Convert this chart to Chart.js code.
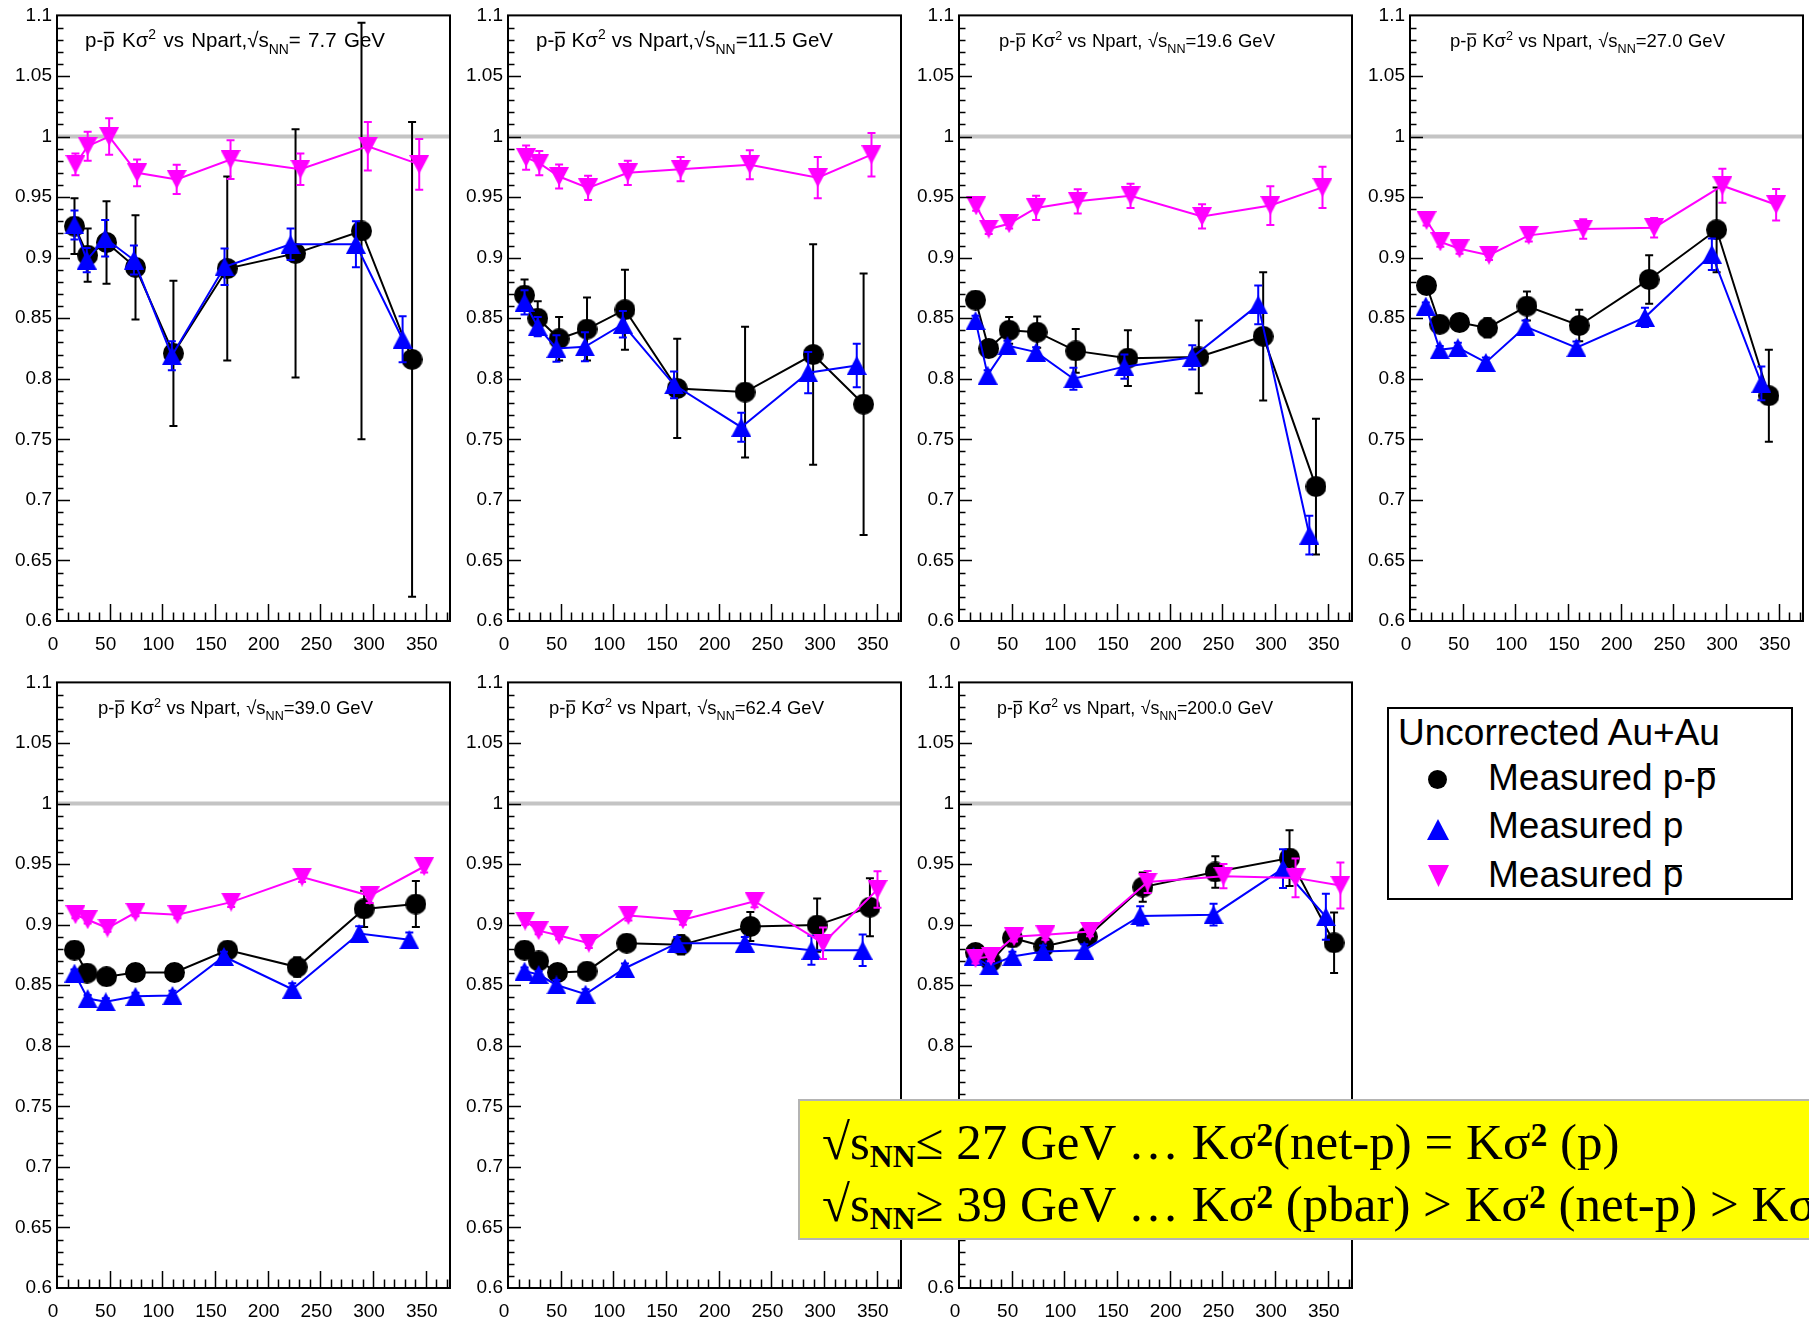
<!DOCTYPE html>
<html>
<head>
<meta charset="utf-8">
<title>Net-proton Kσ² vs Npart</title>
<script src="https://cdn.jsdelivr.net/npm/chart.js@4.4.0/dist/chart.umd.min.js"></script>
<style>
  html, body { margin: 0; padding: 0; background: #fff; }
  body { width: 1809px; height: 1320px; position: relative; overflow: hidden;
         font-family: "Liberation Sans", Arial, sans-serif; }
  .panel { position: absolute; }
  .panel canvas { display: block; }
  #legend { position: absolute; left: 1387px; top: 707px; width: 402px; height: 189px;
            border: 2px solid #000; background: #fff; z-index: 2;
            font-size: 37px; line-height: 37px; color: #000; }
  #legend .t { position: absolute; white-space: nowrap; }
  #legend .mk { position: absolute; }
  .bar { position: relative; }
  .bar::after { content: ""; position: absolute; left: 0.06em; right: 0.04em; top: 0.3em;
                border-top: 0.075em solid #000; }
  #note { position: absolute; left: 798px; top: 1099px; width: 1100px; height: 137px;
          background: #ffff00; border: 2px solid #b4b4b4; z-index: 3;
          font-family: "Liberation Serif", "Times New Roman", serif;
          font-size: 51px; line-height: 48px; color: #000; }
  #note .ln { position: absolute; left: 22px; white-space: nowrap; }
  #note sub { font-size: 0.62em; font-weight: bold; vertical-align: baseline;
              position: relative; top: 0.24em; line-height: 0; }
  #note sup { font-size: 0.66em; font-weight: bold; vertical-align: baseline;
              position: relative; top: -0.38em; line-height: 0; }
</style>
</head>
<body>

<div id="legend">
  <div class="t" style="left:9px;top:5px;">Uncorrected Au+Au</div>
  <div class="mk" style="left:39px;top:61px;width:19px;height:19px;border-radius:50%;background:#000;"></div>
  <div class="t" style="left:99px;top:50px;">Measured p-<span class="bar">p</span></div>
  <div class="mk" style="left:38px;top:110px;width:22px;height:21px;background:#0000ff;clip-path:polygon(50% 0,100% 100%,0 100%);"></div>
  <div class="t" style="left:99px;top:98px;">Measured p</div>
  <div class="mk" style="left:39px;top:156px;width:21px;height:22px;background:#ff00ff;clip-path:polygon(0 0,100% 0,50% 100%);"></div>
  <div class="t" style="left:99px;top:147px;">Measured <span class="bar">p</span></div>
</div>

<div id="note">
  <div class="ln" style="top:17px;">√s<sub>NN</sub>≤ 27 GeV … Kσ<sup>2</sup>(net-p) = Kσ<sup>2</sup> (p)</div>
  <div class="ln" style="top:79px;">√s<sub>NN</sub>≥ 39 GeV … Kσ<sup>2</sup> (pbar) &gt; Kσ<sup>2</sup> (net-p) &gt; Kσ<sup>2</sup> (p)</div>
</div>

<script>
// Collision energies (GeV), one panel each
const energies = ['7.7', '11.5', '19.6', '27.0', '39.0', '62.4', '200.0'];

// Net-proton (p - pbar): Npart, Kσ², error — one row per energy
const netNpart = [
  [16.6, 29.1, 47.0, 74.5, 110.5, 161.6, 226.4, 289.0, 337.0],
  [15.7, 28.2, 48.5, 75.0, 111.0, 160.6, 225.0, 289.6, 337.5],
  [15.7, 28.2, 47.6, 74.2, 110.8, 160.3, 227.6, 288.7, 338.8],
  [15.7, 28.2, 47.0, 73.6, 111.0, 160.6, 227.0, 291.0, 340.6],
  [16.6, 28.5, 47.0, 74.5, 111.5, 162.0, 228.0, 291.5, 340.6],
  [15.7, 29.1, 47.0, 75.0, 112.7, 164.4, 230.0, 293.4, 343.5],
  [15.7, 30.4, 50.7, 80.5, 121.8, 174.4, 243.3, 313.7, 356.0]
];
const netK = [
  [0.926, 0.902, 0.9125, 0.892, 0.821, 0.891, 0.9035, 0.922, 0.816],
  [0.869, 0.850, 0.833, 0.841, 0.857, 0.792, 0.789, 0.820, 0.779],
  [0.865, 0.825, 0.840, 0.8385, 0.823, 0.817, 0.818, 0.835, 0.711],
  [0.877, 0.845, 0.8465, 0.842, 0.860, 0.844, 0.882, 0.923, 0.786],
  [0.879, 0.860, 0.857, 0.8605, 0.8605, 0.879, 0.865, 0.913, 0.917],
  [0.879, 0.870, 0.8605, 0.8616, 0.8847, 0.8833, 0.8985, 0.8996, 0.9144],
  [0.877, 0.8695, 0.889, 0.882, 0.890, 0.931, 0.9435, 0.955, 0.885]
];
const netErr = [
  [0.023, 0.022, 0.034, 0.043, 0.060, 0.076, 0.1025, 0.172, 0.196],
  [0.013, 0.014, 0.018, 0.026, 0.033, 0.041, 0.054, 0.091, 0.108],
  [0.004, 0.005, 0.011, 0.013, 0.018, 0.023, 0.030, 0.053, 0.056],
  [0.004, 0.005, 0.005, 0.008, 0.012, 0.013, 0.020, 0.035, 0.038],
  [0.003, 0.003, 0.004, 0.004, 0.005, 0.005, 0.008, 0.015, 0.019],
  [0.003, 0.004, 0.004, 0.005, 0.005, 0.008, 0.012, 0.022, 0.024],
  [0.004, 0.005, 0.005, 0.005, 0.006, 0.012, 0.013, 0.023, 0.025]
];

// Protons
const pNpart = [
  [16.6, 28.2, 45.7, 73.0, 109.0, 159.0, 221.7, 283.7, 328.0],
  [15.7, 28.2, 46.0, 73.0, 109.0, 157.6, 221.4, 284.9, 331.0],
  [15.7, 27.2, 46.0, 73.2, 108.6, 157.0, 221.4, 284.0, 332.5],
  [15.0, 28.2, 45.4, 72.0, 109.6, 158.0, 223.0, 286.5, 333.5],
  [16.6, 29.1, 46.3, 74.5, 109.6, 158.4, 223.3, 286.8, 334.4],
  [15.7, 29.1, 46.0, 73.6, 111.0, 160.6, 224.8, 288.0, 336.6],
  [13.8, 28.8, 50.7, 79.8, 118.9, 172.0, 241.6, 307.5, 348.2]
];
const pK = [
  [0.927, 0.898, 0.916, 0.898, 0.819, 0.8925, 0.911, 0.911, 0.8326],
  [0.863, 0.843, 0.825, 0.8264, 0.845, 0.795, 0.760, 0.805, 0.811],
  [0.848, 0.803, 0.8274, 0.822, 0.800, 0.810, 0.8177, 0.861, 0.671],
  [0.860, 0.824, 0.8257, 0.8135, 0.843, 0.8257, 0.8507, 0.9028, 0.7962],
  [0.860, 0.839, 0.8363, 0.8408, 0.8415, 0.8737, 0.8467, 0.8927, 0.8875],
  [0.8616, 0.8588, 0.8502, 0.8426, 0.864, 0.8847, 0.8847, 0.8789, 0.8789],
  [0.8737, 0.866, 0.8737, 0.8778, 0.8789, 0.9072, 0.9082, 0.9462, 0.9065]
];
const pErr = [
  [0.012, 0.010, 0.015, 0.012, 0.012, 0.015, 0.013, 0.019, 0.019],
  [0.010, 0.008, 0.011, 0.012, 0.011, 0.011, 0.012, 0.017, 0.018],
  [0.004, 0.004, 0.004, 0.004, 0.009, 0.010, 0.010, 0.016, 0.016],
  [0.003, 0.003, 0.004, 0.004, 0.005, 0.005, 0.008, 0.013, 0.014],
  [0.003, 0.003, 0.003, 0.003, 0.004, 0.004, 0.005, 0.006, 0.006],
  [0.003, 0.003, 0.004, 0.004, 0.004, 0.005, 0.005, 0.012, 0.013],
  [0.004, 0.004, 0.004, 0.005, 0.005, 0.008, 0.009, 0.016, 0.019]
];

// Antiprotons
const pbarNpart = [
  [17.5, 29.1, 49.5, 76.0, 113.6, 164.7, 231.0, 295.0, 343.8],
  [17.2, 29.7, 48.5, 76.0, 113.7, 163.8, 229.5, 294.0, 345.0],
  [16.3, 28.2, 47.6, 73.2, 112.7, 162.8, 230.7, 295.5, 345.0],
  [15.7, 28.8, 47.0, 75.0, 112.7, 164.4, 231.7, 296.5, 347.5],
  [17.5, 29.1, 47.9, 74.5, 114.3, 165.3, 232.6, 296.8, 348.5],
  [16.3, 29.1, 48.5, 76.7, 114.3, 166.0, 234.0, 299.0, 350.7],
  [15.7, 30.4, 52.3, 82.0, 124.3, 179.0, 251.0, 319.4, 362.0]
];
const pbarK = [
  [0.977, 0.992, 1.000, 0.970, 0.9646, 0.981, 0.973, 0.992, 0.977],
  [0.9826, 0.978, 0.967, 0.9576, 0.970, 0.973, 0.9767, 0.966, 0.985],
  [0.9427, 0.9236, 0.928, 0.941, 0.9465, 0.951, 0.934, 0.943, 0.958],
  [0.9306, 0.913, 0.9073, 0.902, 0.9184, 0.9236, 0.9247, 0.9594, 0.9437],
  [0.9082, 0.904, 0.8972, 0.910, 0.9082, 0.9186, 0.9393, 0.9238, 0.948],
  [0.903, 0.895, 0.891, 0.8847, 0.9075, 0.904, 0.9193, 0.8847, 0.929],
  [0.872, 0.8737, 0.890, 0.8916, 0.8944, 0.9352, 0.940, 0.9386, 0.9324]
];
const pbarErr = [
  [0.009, 0.012, 0.015, 0.011, 0.012, 0.016, 0.013, 0.020, 0.021],
  [0.010, 0.010, 0.010, 0.010, 0.010, 0.010, 0.012, 0.017, 0.018],
  [0.004, 0.004, 0.004, 0.010, 0.010, 0.010, 0.010, 0.016, 0.017],
  [0.004, 0.004, 0.004, 0.004, 0.005, 0.008, 0.008, 0.014, 0.013],
  [0.003, 0.003, 0.003, 0.003, 0.003, 0.004, 0.004, 0.006, 0.005],
  [0.003, 0.003, 0.003, 0.004, 0.004, 0.004, 0.005, 0.013, 0.015],
  [0.004, 0.004, 0.004, 0.004, 0.004, 0.009, 0.010, 0.016, 0.019]
];

// Axis ranges and tick labels
const xRange = [0, 373];
const yRange = [0.6, 1.1];
const xTickStep = 50;
const yTickStep = 0.05;
const referenceLevel = 1;

// ---- page geometry of the seven frames ----
const FRAME_W = 397, FRAME_H = 608;
const AXIS_W = 57, PAD_TOP = 14, PAD_RIGHT = 6, AXIS_H = 40;
const frameOrigins = [[57, 13], [508, 13], [959, 13], [1410, 13], [57, 680], [508, 680], [959, 680]];
const titleOffsets = [28, 28, 40, 40, 41, 41, 38];
const titleWidths = [300, 297, 276, 275, 275, 275, 276];
const titleSizes = [20.5, 20.5, 18.5, 18.5, 18.5, 18.5, 17.8];

const FONT = '"Liberation Sans", Arial, sans-serif';

// marker bitmaps used as point styles
function markerCanvas(kind, color, w, h) {
  const c = document.createElement('canvas');
  c.width = w; c.height = h;
  const g = c.getContext('2d');
  g.fillStyle = color;
  g.beginPath();
  if (kind === 'circle') g.arc(w / 2, h / 2, w / 2, 0, Math.PI * 2);
  else if (kind === 'up') { g.moveTo(w / 2, 0); g.lineTo(w, h); g.lineTo(0, h); }
  else { g.moveTo(0, 0); g.lineTo(w, 0); g.lineTo(w / 2, h); }
  g.closePath();
  g.fill();
  return c;
}
const dotMarker = markerCanvas('circle', '#000000', 21, 21);
const upMarker = markerCanvas('up', '#0000ff', 20, 19);
const downMarker = markerCanvas('down', '#ff00ff', 20, 19);

// title pieces: p-p̄ Kσ² vs Npart, √s_NN = E GeV
function titleParts(idx) {
  const sep = idx < 2 ? ',' : ', ';
  const eq = idx === 0 ? '= ' : '=';
  return [
    { t: 'p-' }, { t: 'p', bar: true }, { t: ' K' }, { t: 'σ' }, { t: '2', sup: true },
    { t: ' vs Npart' + sep + '√s' }, { t: 'NN', sub: true }, { t: eq + energies[idx] + ' GeV' }
  ];
}

function drawRichText(ctx, parts, x, y, size, target) {
  const segs = [];
  parts.forEach(p => {
    const s = (p.sup || p.sub) ? size * 0.68 : size;
    p.t.split(/( )/).forEach(piece => {
      if (piece) segs.push({ t: piece, s, sup: p.sup, sub: p.sub, bar: p.bar });
    });
  });
  let natural = 0, spaces = 0;
  segs.forEach(g => {
    ctx.font = g.s + 'px ' + FONT;
    g.w = ctx.measureText(g.t).width;
    natural += g.w;
    if (g.t === ' ') spaces++;
  });
  const extra = spaces ? Math.max(-1.5, (target - natural) / spaces) : 0;
  let cx = x;
  segs.forEach(g => {
    ctx.font = g.s + 'px ' + FONT;
    const dy = g.sup ? -size * 0.4 : g.sub ? size * 0.32 : 0;
    if (g.t !== ' ') ctx.fillText(g.t, cx, y + dy);
    if (g.bar) ctx.fillRect(cx + 0.5, y - size * 0.76, g.w - 1, Math.max(1.3, size * 0.07));
    cx += g.w + (g.t === ' ' ? extra : 0);
  });
}

// vertical error bars with short caps, drawn just beneath each series
const errorBars = {
  id: 'errorBars',
  beforeDatasetDraw(chart, args) {
    const ds = chart.data.datasets[args.index];
    if (!ds.errors) return;
    const { ctx } = chart;
    const xs = chart.scales.x, ys = chart.scales.y;
    ctx.save();
    ctx.strokeStyle = ds.borderColor;
    ctx.lineWidth = 2;
    ds.data.forEach((pt, i) => {
      const e = ds.errors[i];
      const px = xs.getPixelForValue(pt.x);
      const top = ys.getPixelForValue(pt.y + e);
      const bot = ys.getPixelForValue(pt.y - e);
      ctx.beginPath();
      ctx.moveTo(px, top); ctx.lineTo(px, bot);
      ctx.moveTo(px - 4, top); ctx.lineTo(px + 4, top);
      ctx.moveTo(px - 4, bot); ctx.lineTo(px + 4, bot);
      ctx.stroke();
    });
    ctx.restore();
  }
};

// frame, inward ticks, unity line and panel caption
const frameDecor = {
  id: 'frameDecor',
  beforeDatasetsDraw(chart, args, opts) {
    const { ctx, chartArea: a } = chart;
    const ys = chart.scales.y;
    const py = ys.getPixelForValue(referenceLevel);
    ctx.save();
    ctx.strokeStyle = '#c4c4c4';
    ctx.lineWidth = 4;
    ctx.beginPath();
    ctx.moveTo(a.left, py); ctx.lineTo(a.right, py);
    ctx.stroke();
    ctx.fillStyle = '#000';
    ctx.textBaseline = 'alphabetic';
    ctx.textAlign = 'left';
    drawRichText(ctx, titleParts(opts.idx), a.left + titleOffsets[opts.idx], a.top + 32,
                 titleSizes[opts.idx], titleWidths[opts.idx]);
    ctx.restore();
  },
  afterDraw(chart) {
    const { ctx, chartArea: a } = chart;
    const xs = chart.scales.x, ys = chart.scales.y;
    ctx.save();
    ctx.strokeStyle = '#000';
    ctx.lineWidth = 1.5;
    ctx.beginPath();
    for (let v = 10; v <= 370; v += 10) {
      const px = Math.round(xs.getPixelForValue(v)) + 0.5;
      const len = v % 50 === 0 ? 17 : 8.5;
      ctx.moveTo(px, a.bottom); ctx.lineTo(px, a.bottom - len);
    }
    for (let i = 1; i < 50; i++) {
      const py = Math.round(ys.getPixelForValue(yRange[0] + i * 0.01)) + 0.5;
      const len = i % 5 === 0 ? 13 : 6.5;
      ctx.moveTo(a.left, py); ctx.lineTo(a.left + len, py);
    }
    ctx.stroke();
    ctx.lineWidth = 2;
    ctx.strokeRect(a.left, a.top, a.right - a.left, a.bottom - a.top);
    ctx.restore();
  }
};

function points(xs, ys) { return xs.map((x, i) => ({ x, y: ys[i] })); }

energies.forEach((e, k) => {
  const [L, T] = frameOrigins[k];
  const holder = document.createElement('div');
  holder.className = 'panel';
  holder.style.left = (L - AXIS_W) + 'px';
  holder.style.top = (T - PAD_TOP) + 'px';
  holder.style.zIndex = 1;
  const cv = document.createElement('canvas');
  cv.width = AXIS_W + FRAME_W + PAD_RIGHT;
  cv.height = PAD_TOP + FRAME_H + AXIS_H;
  holder.appendChild(cv);
  document.body.appendChild(holder);

  const series = (label, xs, ys, errs, color, marker, order) => ({
    label, data: points(xs, ys), errors: errs,
    borderColor: color, backgroundColor: color, borderWidth: 2,
    showLine: true, tension: 0, pointStyle: marker, pointRadius: 10,
    pointHoverRadius: 10, pointBorderWidth: 0, order, clip: false
  });

  new Chart(cv, {
    type: 'scatter',
    data: {
      datasets: [
        series('Measured p-p̄', netNpart[k], netK[k], netErr[k], '#000000', dotMarker, 2),
        series('Measured p', pNpart[k], pK[k], pErr[k], '#0000ff', upMarker, 1),
        series('Measured p̄', pbarNpart[k], pbarK[k], pbarErr[k], '#ff00ff', downMarker, 0)
      ]
    },
    options: {
      responsive: false,
      animation: false,
      devicePixelRatio: 1,
      events: [],
      layout: { padding: { left: 0, right: PAD_RIGHT, top: PAD_TOP, bottom: 0 } },
      plugins: {
        legend: { display: false },
        tooltip: { enabled: false },
        frameDecor: { idx: k }
      },
      scales: {
        x: {
          type: 'linear', min: xRange[0], max: xRange[1],
          afterFit(s) { s.height = AXIS_H; },
          grid: { display: false, drawTicks: false },
          border: { display: false },
          ticks: {
            stepSize: xTickStep, includeBounds: false, autoSkip: false, maxRotation: 0,
            color: '#000', font: { family: FONT, size: 19 }, padding: 12, labelOffset: -4
          }
        },
        y: {
          type: 'linear', min: yRange[0], max: yRange[1],
          afterFit(s) { s.width = AXIS_W; },
          grid: { display: false, drawTicks: false },
          border: { display: false },
          ticks: {
            stepSize: yTickStep, color: '#000', font: { family: FONT, size: 19 }, padding: 5,
            callback: v => String(+v.toFixed(2))
          }
        }
      }
    },
    plugins: [errorBars, frameDecor]
  });
});
</script>
</body>
</html>
